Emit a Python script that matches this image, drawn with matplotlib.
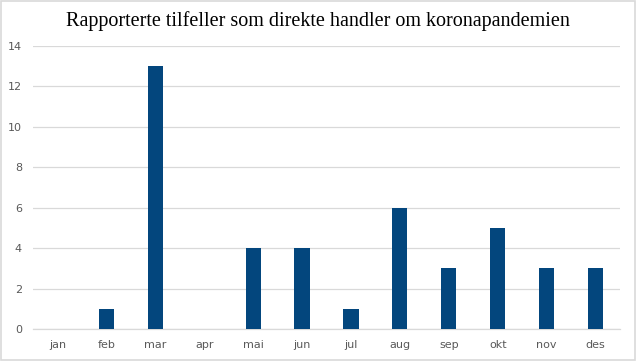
import matplotlib
matplotlib.use("Agg")
import matplotlib.pyplot as plt
from matplotlib.patches import Rectangle

# data
months = ["jan", "feb", "mar", "apr", "mai", "jun", "jul", "aug", "sep", "okt", "nov", "des"]
cases = [0, 1, 13, 0, 4, 4, 1, 6, 3, 5, 3, 3]
y_ticks = [0, 2, 4, 6, 8, 10, 12, 14]

bar_color = "#03467D"
grid_color = "#D9D9D9"
text_color = "#595959"

fig = plt.figure(figsize=(6.36, 3.61), dpi=100)
ax = fig.add_axes([33 / 636, 32 / 361, 587 / 636, 283 / 361])

x = list(range(len(months)))
ax.bar(x, cases, width=0.31, color=bar_color, zorder=3)

ax.set_xlim(-0.5, len(months) - 0.5)
ax.set_ylim(0, 14)
ax.set_yticks(y_ticks)
ax.set_xticks(x)
ax.set_xticklabels(months)

ax.grid(axis="y", color=grid_color, linewidth=0.9, zorder=0)
for side in ["top", "right", "left"]:
    ax.spines[side].set_visible(False)
ax.spines["bottom"].set_color(grid_color)
ax.spines["bottom"].set_linewidth(0.9)
ax.tick_params(axis="both", length=0, labelsize=8, labelcolor=text_color,
               labelfontfamily="DejaVu Sans")
ax.tick_params(axis="x", pad=8)
ax.tick_params(axis="y", pad=8)

fig.text(0.5, 0.942, "Rapporterte tilfeller som direkte handler om koronapandemien",
         ha="center", va="center", fontsize=14.5, family="Liberation Serif", color="#000000")

# light border around the chart
fig.patches.append(Rectangle((0.001, 0.002), 0.997, 0.995, transform=fig.transFigure,
                             fill=False, edgecolor=grid_color, linewidth=1.2))

fig.savefig("out.png", dpi=100)
